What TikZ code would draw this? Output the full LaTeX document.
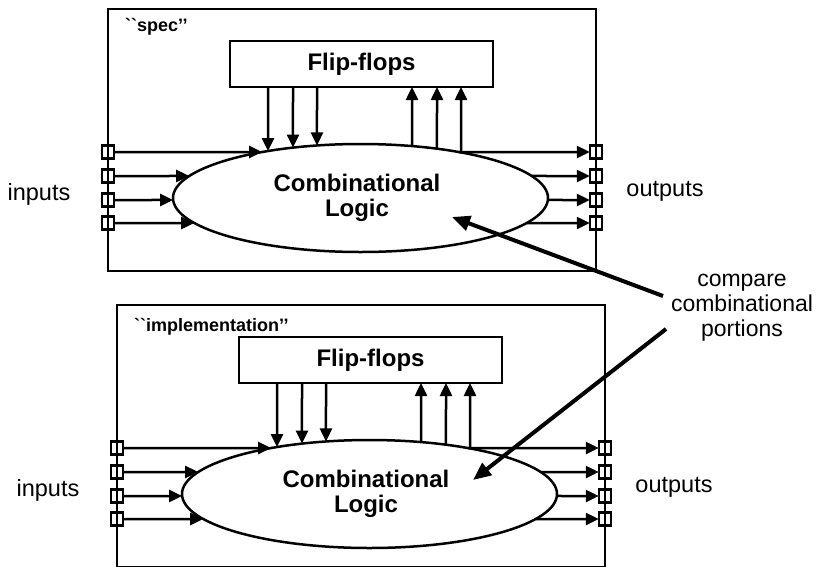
\documentclass[tikz,border=0pt]{standalone}
\usepackage{fontspec}
\setmainfont{Liberation Sans}
\newfontfamily\tagfont{Liberation Sans}[Ligatures=TeXOff]
\usetikzlibrary{arrows.meta,intersections}

\tikzset{
  frame/.style={draw, line width=2.5pt},
  ffbox/.style={draw, line width=2.5pt, minimum width=263pt, minimum height=46pt,
    inner sep=0pt, outer sep=0pt, font=\bfseries\fontsize{24}{26}\selectfont},
  logic/.style={align=center, inner sep=0pt, font=\bfseries\fontsize{24}{24.5}\selectfont},
  tag/.style={inner sep=0pt, font=\tagfont\bfseries\fontsize{18}{20}\selectfont},
  port/.style={draw, line width=2.2pt, minimum width=12.5pt, minimum height=13pt,
    inner sep=0pt, outer sep=0pt},
  arr/.style={line width=2.5pt, -{Triangle[length=13pt,width=12pt]}},
  bigarr/.style={line width=4pt, -{Triangle[length=18pt,width=15pt]}},
  side/.style={inner sep=0pt, font=\fontsize{23.5}{26}\selectfont},
}

% One sequential circuit: frame, flip-flops, combinational logic, ports.
% #1 name prefix, #2 shift, #3 tag text, #4 tag baseline
\newcommand\combmodule[4]{%
\begin{scope}[shift={#2}]
  \draw[frame] (108,9) rectangle (596,271);
  \node[tag, anchor=base west] (#1tag) at (125,#4) {#3};
  \node[ffbox] (#1ff) at (361.5,64) {Flip-flops};
  \draw[line width=2.5pt, name path=#1ell] (360.5,198) ellipse [x radius=187.5pt, y radius=54pt];
  \node[logic] (#1cl) at (357,198) {Combinational\\Logic};
  % primary inputs and outputs
  \foreach \k/\yy in {1/152,2/176,3/200,4/223}{
    \node[port] (#1in\k) at (108,\yy) {};
    \node[port] (#1out\k) at (596,\yy) {};
    \path[name path=rin] (#1in\k.east) -- ++(200,0);
    \path[name path=rout] (#1out\k.west) -- ++(-200,0);
    \draw[arr, name intersections={of=rin and #1ell, sort by=rin, by={#1ia\k}}]
      (#1in\k.east) -- (#1ia\k);
    \draw[arr, name intersections={of=rout and #1ell, sort by=rout, by={#1oa\k}}]
      (#1oa\k) -- (#1out\k.west);
  }
  % present state into the logic
  \foreach \k/\xx in {1/268,2/293,3/317}{
    \coordinate (#1ffd\k) at (\xx,87);
    \path[name path=rd] (#1ffd\k) -- ++(0,150);
    \draw[arr, name intersections={of=rd and #1ell, sort by=rd, by={#1ed\k}}]
      (#1ffd\k) -- (#1ed\k);
  }
  % next state back to the flip-flops
  \foreach \k/\xx in {1/412,2/437,3/461}{
    \coordinate (#1ffu\k) at (\xx,87);
    \path[name path=ru] (#1ffu\k) -- ++(0,150);
    \draw[arr, name intersections={of=ru and #1ell, sort by=ru, by={#1eu\k}}]
      (#1eu\k) -- (#1ffu\k);
  }
  \node[side, anchor=base] (#1inlbl) at (39,200) {inputs};
  \node[side, anchor=base] (#1outlbl) at (665,196) {outputs};
\end{scope}}

\begin{document}
\begin{tikzpicture}[x=1pt, y=-1pt]
  \useasboundingbox (0,0) rectangle (820,566);

  \combmodule{s}{(0,0)}{``spec’’}{31.5}
  \combmodule{m}{(9,296)}{``implementation’’}{35.5}

  \node[side, align=center, font=\fontsize{23}{25}\selectfont] (cmp) at (742,308)
    {compare\\combinational\\portions};
  \coordinate (srcA) at (663,296);
  \coordinate (srcB) at (666,329);
  \coordinate (tipA) at (452,217);
  \coordinate (tipB) at (473,480);
  \draw[bigarr] (srcA) -- (tipA);
  \draw[bigarr] (srcB) -- (tipB);
\end{tikzpicture}
\end{document}
